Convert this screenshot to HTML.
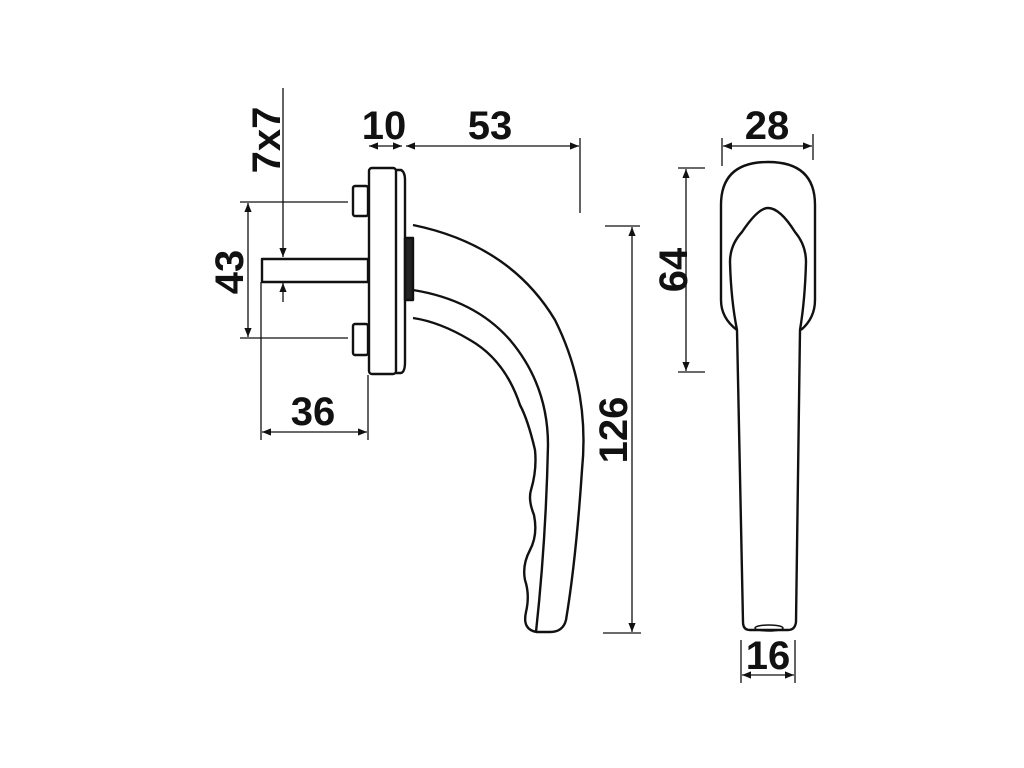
<!DOCTYPE html>
<html><head><style>html,body{margin:0;padding:0;background:#fff}svg{display:block}text{font-family:"Liberation Sans",Arial,sans-serif;font-weight:bold;font-size:40px;fill:#111}</style></head>
<body>
<svg width="1024" height="768" viewBox="0 0 1024 768" xmlns="http://www.w3.org/2000/svg">
<defs>
<marker id="a" viewBox="0 0 10 10" refX="10" refY="5" markerWidth="9" markerHeight="9" orient="auto-start-reverse" markerUnits="userSpaceOnUse"><path d="M0,1 L10,5 L0,9 z" fill="#111"/></marker>
</defs>
<g stroke="#111" stroke-width="1.3" fill="none">
<line x1="248" y1="203" x2="248" y2="337" marker-start="url(#a)" marker-end="url(#a)"/>
<line x1="240" y1="202" x2="348" y2="202"/>
<line x1="240" y1="338" x2="348" y2="338"/>
<line x1="283" y1="88" x2="283" y2="257" marker-end="url(#a)"/>
<line x1="283" y1="302" x2="283" y2="283" marker-end="url(#a)"/>
<line x1="262" y1="432" x2="367" y2="432" marker-start="url(#a)" marker-end="url(#a)"/>
<line x1="261" y1="282" x2="261" y2="440"/>
<line x1="368" y1="375" x2="368" y2="440"/>
<line x1="369" y1="146" x2="402" y2="146" marker-start="url(#a)" marker-end="url(#a)"/>
<line x1="406" y1="146" x2="579" y2="146" marker-start="url(#a)" marker-end="url(#a)"/>
<line x1="580" y1="138" x2="580" y2="213"/>
<line x1="632" y1="227" x2="632" y2="632" marker-start="url(#a)" marker-end="url(#a)"/>
<line x1="605" y1="226" x2="640" y2="226"/>
<line x1="603" y1="633" x2="641" y2="633"/>
<line x1="723" y1="146" x2="812" y2="146" marker-start="url(#a)" marker-end="url(#a)"/>
<line x1="722" y1="138" x2="722" y2="166"/>
<line x1="813" y1="134" x2="813" y2="160"/>
<line x1="686" y1="169" x2="686" y2="371" marker-start="url(#a)" marker-end="url(#a)"/>
<line x1="678" y1="168" x2="705" y2="168"/>
<line x1="678" y1="372" x2="705" y2="372"/>
<line x1="742" y1="675" x2="794" y2="675" marker-start="url(#a)" marker-end="url(#a)"/>
<line x1="741" y1="640" x2="741" y2="683"/>
<line x1="795" y1="640" x2="795" y2="683"/>
</g>
<g stroke="#111" stroke-width="2.4" fill="none" stroke-linejoin="round">
<rect x="262" y="259" width="106" height="23" fill="#fff"/>
<rect x="353" y="186" width="15" height="30" rx="2"/>
<rect x="353" y="324" width="15" height="31" rx="2"/>
<rect x="369" y="168" width="27" height="206" rx="3"/>
<path d="M396,170 L401,170 Q405,172 405,180 L405,362 Q405,372 401,373 L396,373"/>
<rect x="405" y="238" width="8" height="62" fill="#222"/>
<path d="M413,225 Q510,245 555,320 Q590,390 582,470 Q576,560 566,620 Q563,632 550,632 L537,632 Q522,630 526,612 Q530,595 525,580 Q522,565 530,550 Q538,535 534,515 Q528,500 531,490 Q537,470 535,450 Q528,420 520,405 Q505,360 470,340 Q440,322 413,318"/>
<path d="M413,290 Q475,300 510,340 Q548,385 548,445 Q546,540 536,632"/>
<path d="M737,330 Q721,318 721,300 L721,205 Q721,162 768,162 Q815,162 815,205 L815,300 Q815,318 801,330"/>
<path d="M737,330 Q731,300 730,262 Q730,245 742,232 Q758,208 768,208 Q780,208 795,232 Q806,245 806,262 Q805,300 800,330 L796,622 Q795,630 788,630 L750,630 Q743,630 743,622 Z"/>
<ellipse cx="769" cy="628" rx="14" ry="3" stroke-width="1.5"/>
</g>
<text x="384" y="139" text-anchor="middle">10</text>
<text x="490" y="139" text-anchor="middle">53</text>
<text x="313" y="425" text-anchor="middle">36</text>
<text x="767" y="139" text-anchor="middle">28</text>
<text x="768" y="669" text-anchor="middle">16</text>
<text transform="translate(243,272) rotate(-90)" text-anchor="middle">43</text>
<text transform="translate(280,140) rotate(-90)" text-anchor="middle">7x7</text>
<text transform="translate(627,430) rotate(-90)" text-anchor="middle">126</text>
<text transform="translate(687,270) rotate(-90)" text-anchor="middle">64</text>
</svg>
</body></html>
